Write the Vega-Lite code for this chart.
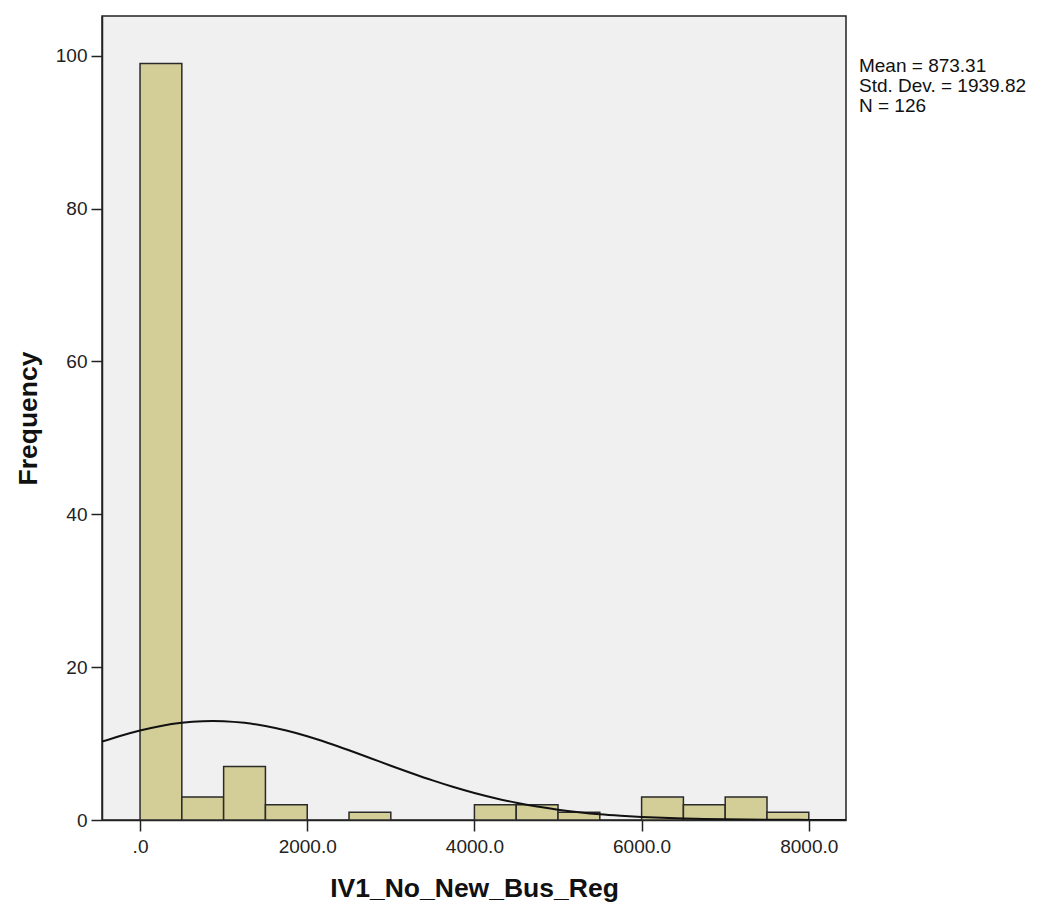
{
  "$schema": "https://vega.github.io/schema/vega-lite/v6.json",
  "width": 744,
  "height": 804,
  "padding": {"left": 102, "top": 16, "right": 195, "bottom": 87},
  "autosize": {"type": "none"},
  "background": "white",
  "view": {"fill": "#F0F0F0", "stroke": "#222222", "strokeWidth": 1.5},
  "config": {
    "font": "Liberation Sans",
    "axis": {"grid": false, "domainColor": "#222222", "tickColor": "#222222", "tickSize": 11, "labelColor": "#222222", "titleColor": "#111111", "labelFontSize": 19, "titleFontSize": 26.5, "titleFontWeight": "bold", "domainWidth": 1.5, "tickWidth": 1.5}
  },
  "datasets": {
    "bins": [
      {"bin_start": 0, "bin_end": 500, "count": 99},
      {"bin_start": 500, "bin_end": 1000, "count": 3},
      {"bin_start": 1000, "bin_end": 1500, "count": 7},
      {"bin_start": 1500, "bin_end": 2000, "count": 2},
      {"bin_start": 2500, "bin_end": 3000, "count": 1},
      {"bin_start": 4000, "bin_end": 4500, "count": 2},
      {"bin_start": 4500, "bin_end": 5000, "count": 2},
      {"bin_start": 5000, "bin_end": 5500, "count": 1},
      {"bin_start": 6000, "bin_end": 6500, "count": 3},
      {"bin_start": 6500, "bin_end": 7000, "count": 2},
      {"bin_start": 7000, "bin_end": 7500, "count": 3},
      {"bin_start": 7500, "bin_end": 8000, "count": 1}
    ],
    "curve": [
      {"x": -455, "y": 10.25},
      {"x": -250, "y": 10.96},
      {"x": 0, "y": 11.71},
      {"x": 250, "y": 12.31},
      {"x": 500, "y": 12.72},
      {"x": 750, "y": 12.93},
      {"x": 873, "y": 12.96},
      {"x": 1000, "y": 12.93},
      {"x": 1250, "y": 12.71},
      {"x": 1500, "y": 12.30},
      {"x": 1750, "y": 11.70},
      {"x": 2000, "y": 10.95},
      {"x": 2250, "y": 10.07},
      {"x": 2500, "y": 9.12},
      {"x": 2750, "y": 8.12},
      {"x": 3000, "y": 7.10},
      {"x": 3250, "y": 6.12},
      {"x": 3500, "y": 5.18},
      {"x": 3750, "y": 4.31},
      {"x": 4000, "y": 3.53},
      {"x": 4250, "y": 2.85},
      {"x": 4500, "y": 2.26},
      {"x": 4750, "y": 1.76},
      {"x": 5000, "y": 1.35},
      {"x": 5250, "y": 1.02},
      {"x": 5500, "y": 0.75},
      {"x": 5750, "y": 0.55},
      {"x": 6000, "y": 0.39},
      {"x": 6250, "y": 0.28},
      {"x": 6500, "y": 0.19},
      {"x": 6750, "y": 0.13},
      {"x": 7000, "y": 0.088},
      {"x": 7250, "y": 0.058},
      {"x": 7500, "y": 0.038},
      {"x": 7750, "y": 0.024},
      {"x": 8000, "y": 0.015},
      {"x": 8250, "y": 0.009},
      {"x": 8445, "y": 0.006}
    ],
    "stats": [
      {"x": 8600, "y": 99.86, "label": ["Mean = 873.31", "Std. Dev. = 1939.82", "N = 126"]}
    ]
  },
  "layer": [
    {
      "data": {"name": "bins"},
      "mark": {"type": "rect", "fill": "#D3CE97", "stroke": "#2a2a2a", "strokeWidth": 1.5},
      "encoding": {
        "x": {"field": "bin_start", "type": "quantitative", "scale": {"domain": [-455, 8445], "nice": false, "zero": false},
              "axis": {"values": [0, 2000, 4000, 6000, 8000], "title": "IV1_No_New_Bus_Reg", "labelExpr": "datum.value == 0 ? '.0' : format(datum.value, '.1f')", "labelPadding": 6, "titlePadding": 19}},
        "x2": {"field": "bin_end"},
        "y": {"field": "count", "type": "quantitative", "scale": {"domain": [0, 105.2], "nice": false},
              "axis": {"values": [0, 20, 40, 60, 80, 100], "title": "Frequency", "labelPadding": 4, "titlePadding": 13}},
        "y2": {"datum": 0}
      }
    },
    {
      "data": {"name": "curve"},
      "mark": {"type": "line", "color": "#111111", "strokeWidth": 2, "clip": true, "interpolate": "monotone"},
      "encoding": {
        "x": {"field": "x", "type": "quantitative"},
        "y": {"field": "y", "type": "quantitative"}
      }
    },
    {
      "data": {"name": "stats"},
      "mark": {"type": "text", "align": "left", "baseline": "top", "fontSize": 19, "lineHeight": 20, "color": "#111111"},
      "encoding": {
        "x": {"field": "x", "type": "quantitative"},
        "y": {"field": "y", "type": "quantitative"},
        "text": {"field": "label"}
      }
    }
  ]
}
